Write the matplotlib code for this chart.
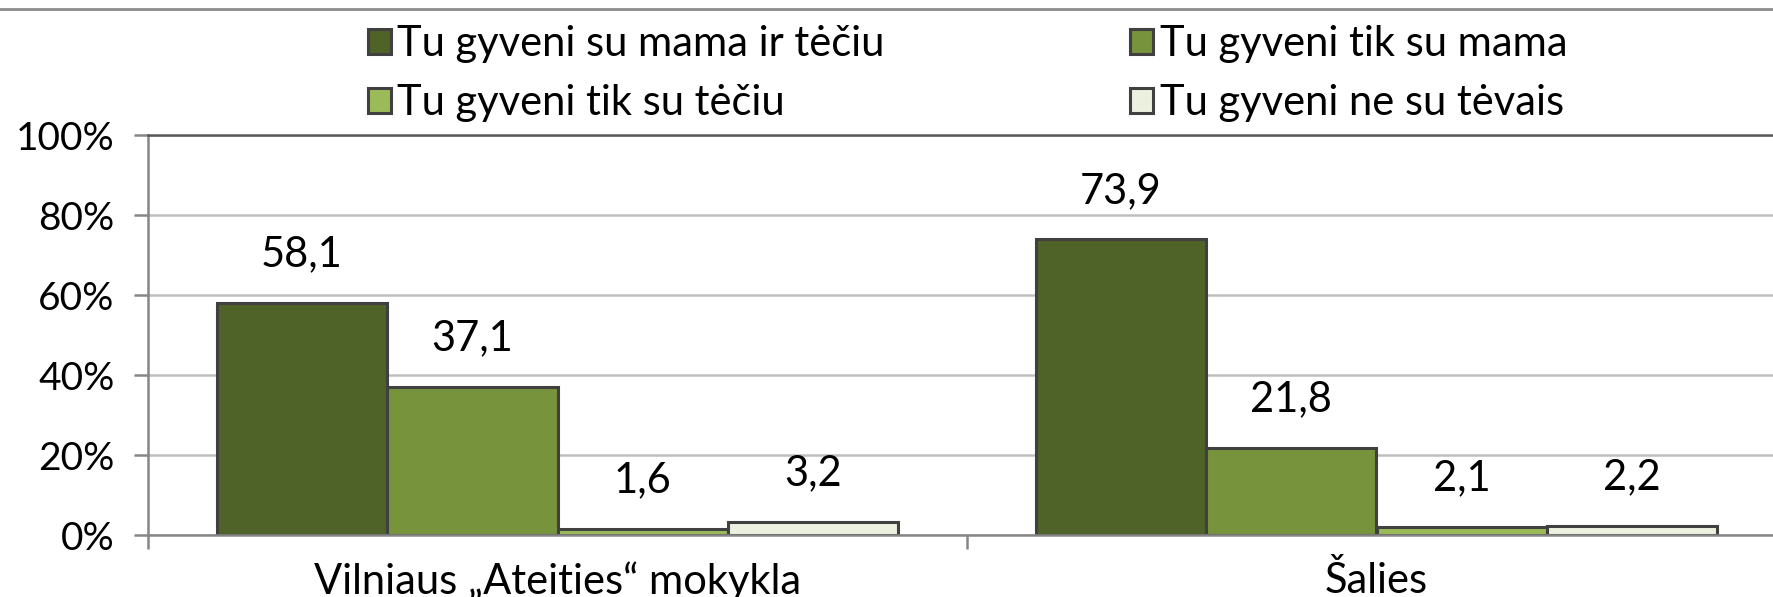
import numpy as np
import matplotlib
matplotlib.use("Agg")
import matplotlib.pyplot as plt
from matplotlib.patches import Patch
from matplotlib.lines import Line2D

plt.rcParams['font.family'] = ['Lato', 'DejaVu Sans']

categories = ["Vilniaus „Ateities“ mokykla", "Šalies"]
series_names = ["Tu gyveni su mama ir tėčiu", "Tu gyveni tik su mama",
                "Tu gyveni tik su tėčiu", "Tu gyveni ne su tėvais"]
su_mama_ir_teciu = [58.1, 73.9]
tik_su_mama = [37.1, 21.8]
tik_su_teciu = [1.6, 2.1]
ne_su_tevais = [3.2, 2.2]
values = [su_mama_ir_teciu, tik_su_mama, tik_su_teciu, ne_su_tevais]
colors = ["#4f6228", "#77933c", "#9bbb59", "#ebf1de"]
y_ticks = [0, 20, 40, 60, 80, 100]

W, H = 1773, 597
FS = 30
fig = plt.figure(figsize=(W / 100, H / 100), dpi=100)
ax = fig.add_axes([148 / W, 62 / H, (1786 - 148) / W, 400 / H])

x = np.arange(len(categories))
width = 0.208
handles = []
for i, (name, vals, col) in enumerate(zip(series_names, values, colors)):
    pos = x + (i - 1.5) * width
    ax.bar(pos, vals, width, color=col, edgecolor="#404040", linewidth=2.2, zorder=3)
    for p, v in zip(pos, vals):
        ax.annotate(f"{v:.1f}".replace(".", ","), (p, v), xytext=(0, 35),
                    textcoords="offset points", ha="center", va="center",
                    fontsize=FS, color="black")
    handles.append(Patch(facecolor=col, edgecolor="#404040", linewidth=2.2, label=name))

ax.set_xlim(-0.5, 1.5)
ax.set_ylim(0, 100)
ax.set_yticks(y_ticks)
ax.set_yticklabels([f"{t}%" for t in y_ticks])
ax.set_xticks(x)
ax.set_xticklabels(categories)
ax.set_xticks([-0.5, 0.5, 1.5], minor=True)
ax.tick_params(axis="x", which="major", length=0, pad=19, labelsize=FS)
ax.tick_params(axis="x", which="minor", length=10, width=1.8, color="#868686", direction="out")
ax.tick_params(axis="y", length=10, width=1.8, color="#868686", pad=14, labelsize=28)

ax.grid(axis="y", color="#bfbfbf", linewidth=1.8, zorder=0)
for s in ["left", "bottom"]:
    ax.spines[s].set_color("#868686")
    ax.spines[s].set_linewidth(1.8)
ax.spines["top"].set_color("#595959")
ax.spines["top"].set_linewidth(1.8)
ax.spines["right"].set_visible(False)
ax.spines["bottom"].set_zorder(4)

# legend filled row-wise like Excel
order = [0, 2, 1, 3]
fig.legend([handles[k] for k in order], [series_names[k] for k in order],
           ncol=2, loc="upper left", bbox_to_anchor=(368 / W, 1 - 25 / H),
           frameon=False, fontsize=FS, handlelength=0.55, handleheight=0.55,
           handletextpad=0.15, columnspacing=5.9, labelspacing=0.5,
           borderpad=0, borderaxespad=0)

fig.add_artist(Line2D([0, 1], [1 - 9 / H, 1 - 9 / H], color="#8c8c8c", linewidth=2,
                      transform=fig.transFigure))

fig.savefig("out.png", dpi=100)
